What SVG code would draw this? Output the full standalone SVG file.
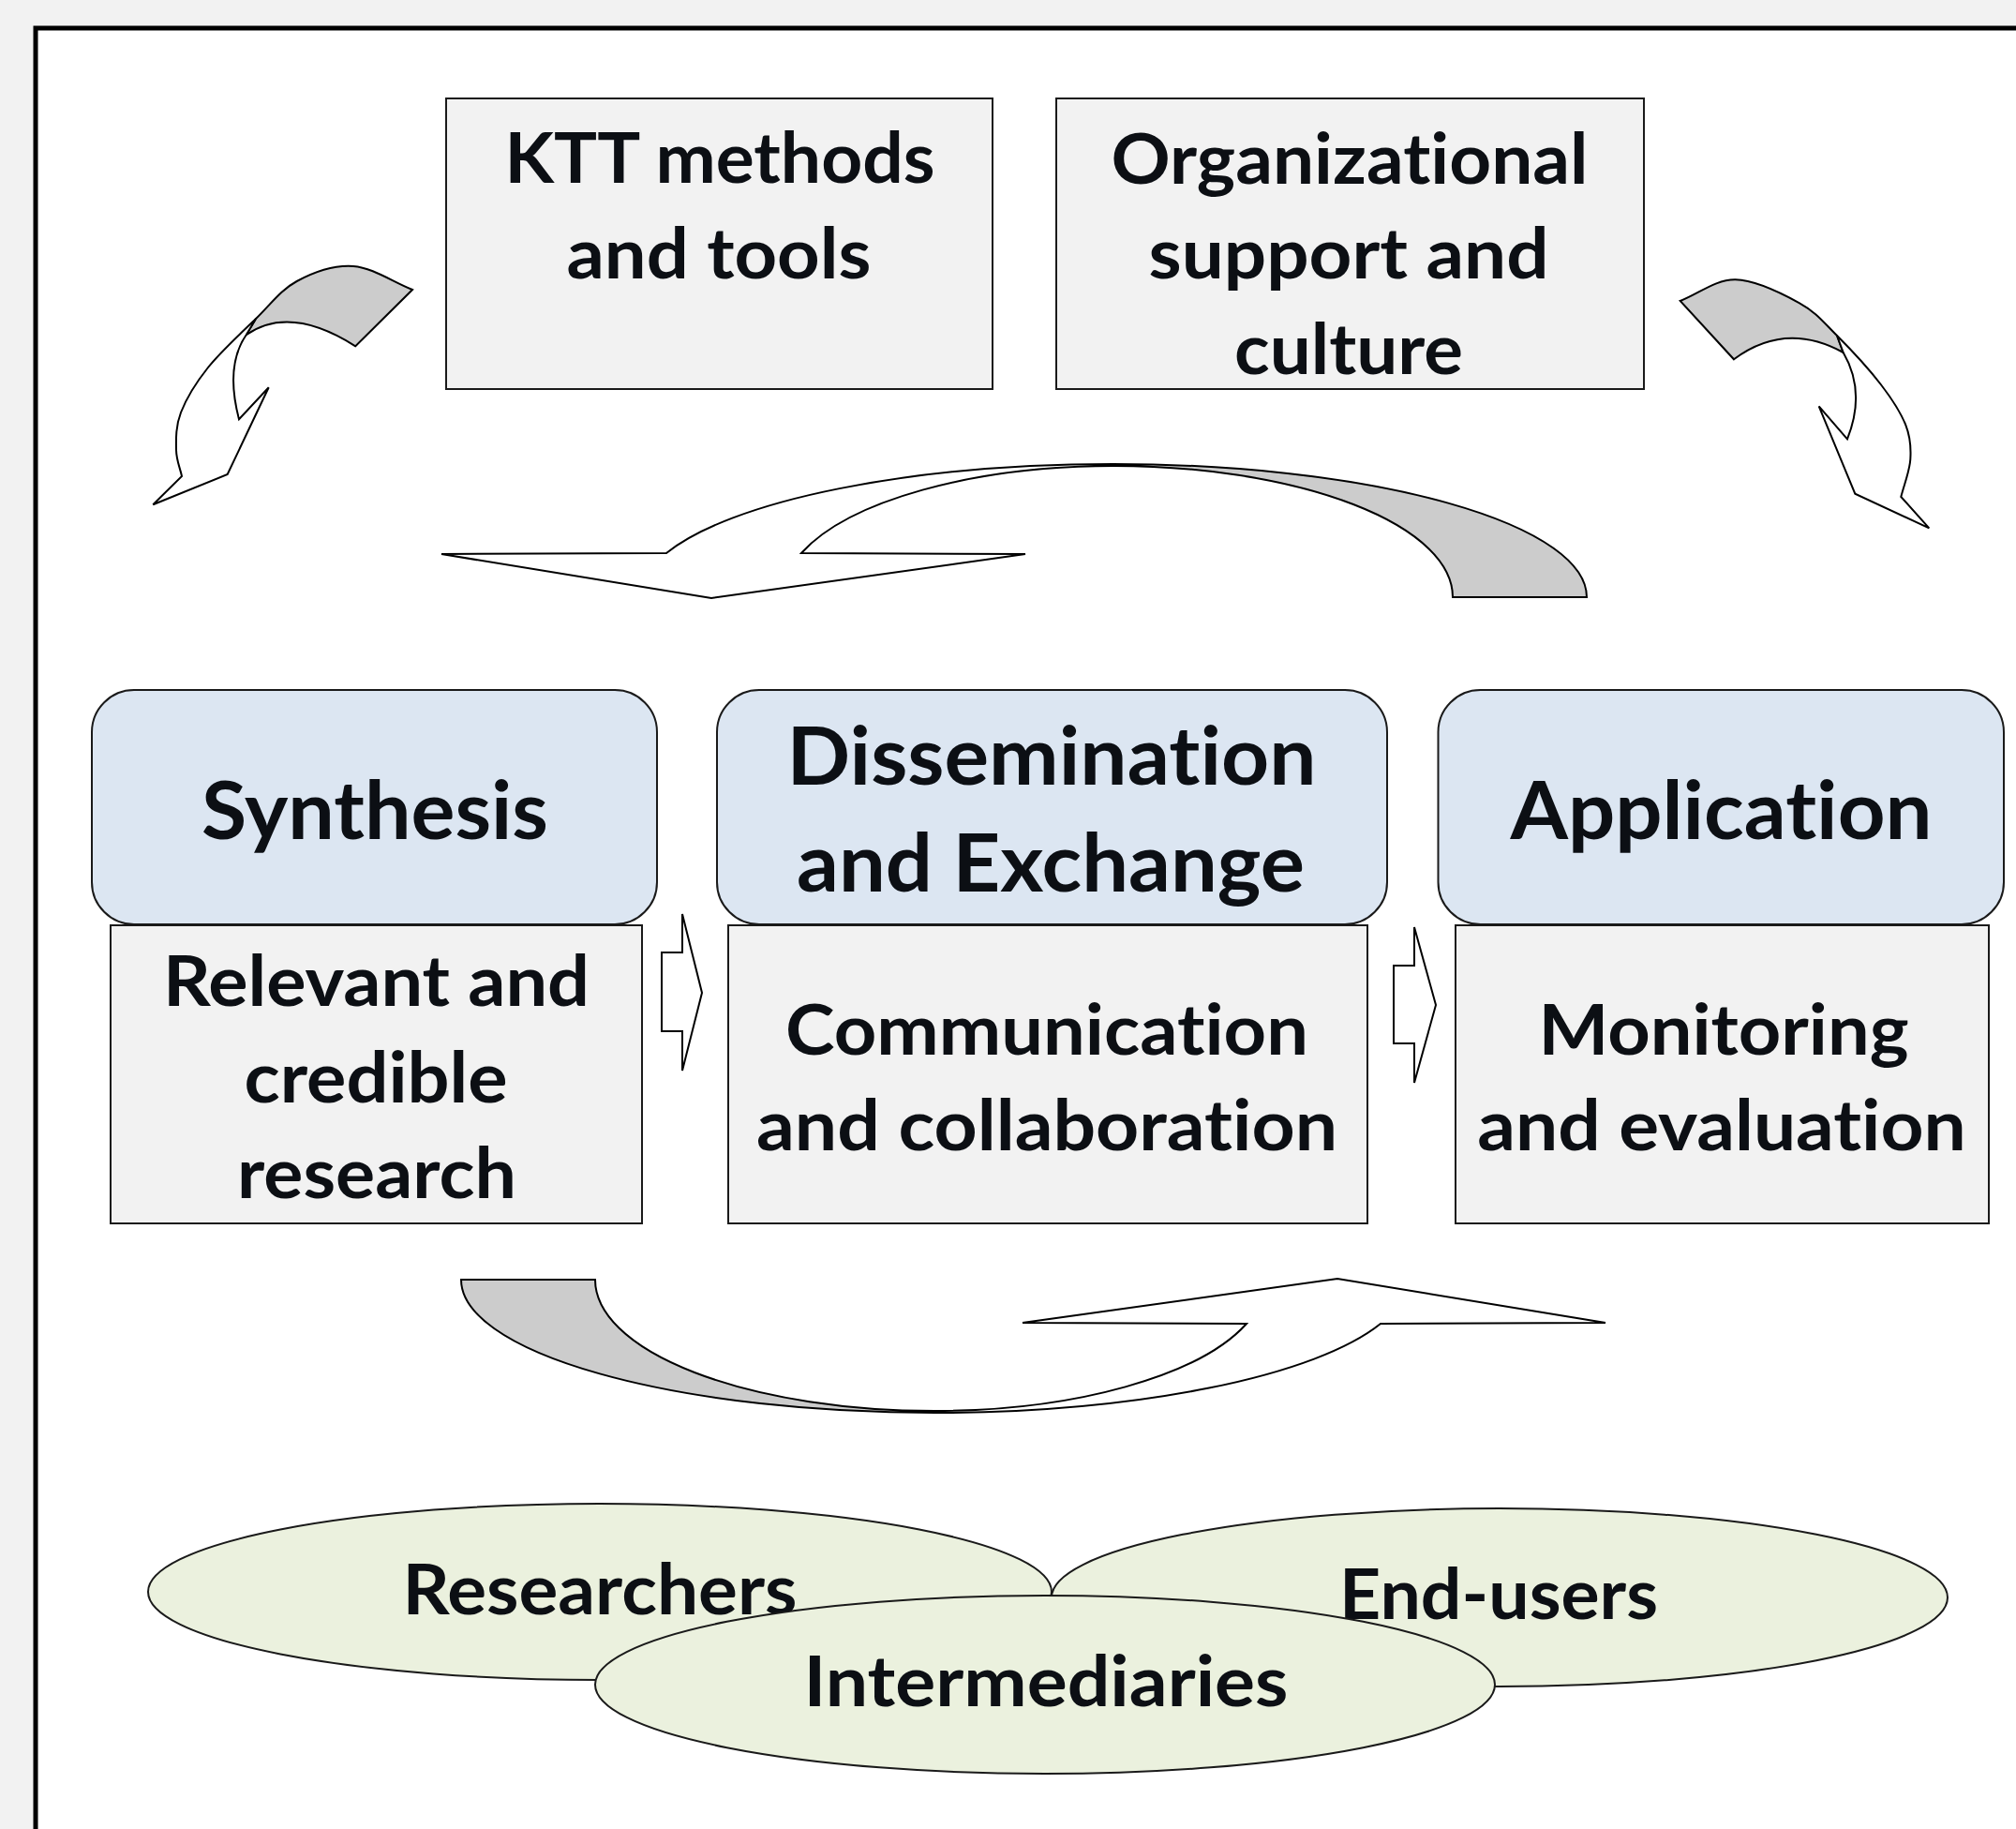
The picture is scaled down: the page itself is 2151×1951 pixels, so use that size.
<svg xmlns="http://www.w3.org/2000/svg" width="2151" height="1951" viewBox="0 0 2151 1951">
<style>
.t{font-family:Lato,"Noto Sans",sans-serif;font-weight:bold;fill:#0c0f14;text-anchor:middle;font-variant-ligatures:none;font-feature-settings:"liga" 0,"clig" 0,"dlig" 0}
.s{font-size:74px}
.b{font-size:86px}
.box{fill:#f2f2f2;stroke:#1a1a1a;stroke-width:2}
.rbox{fill:#dce6f2;stroke:#1a1a1a;stroke-width:2}
.ell{fill:#ebf1de;stroke:#1a1a1a;stroke-width:2}
.g{fill:#cccccc;stroke:#000;stroke-width:2;stroke-linejoin:miter}
.w{fill:#ffffff;stroke:#000;stroke-width:2;stroke-linejoin:miter}
</style>
<rect x="0" y="0" width="2151" height="1951" fill="#f2f2f2"/>
<rect x="38" y="30" width="2130" height="1940" fill="#ffffff" stroke="#000" stroke-width="5"/>

<g id="ktt">
<rect class="box" x="476" y="105" width="583" height="310"/>
<text class="t s" x="768" y="195" textLength="459" lengthAdjust="spacingAndGlyphs">KTT methods</text>
<text class="t s" x="767" y="297" textLength="325" lengthAdjust="spacingAndGlyphs">and tools</text>
</g>
<g id="org">
<rect class="box" x="1127" y="105" width="627" height="310"/>
<text class="t s" x="1440" y="196" textLength="509" lengthAdjust="spacingAndGlyphs">Organizational</text>
<text class="t s" x="1439" y="297" textLength="427" lengthAdjust="spacingAndGlyphs">support and</text>
<text class="t s" x="1439" y="399" textLength="244" lengthAdjust="spacingAndGlyphs">culture</text>
</g>

<g id="connectors">
<path class="g" d="M1188,495 A505,142 0 0 1 1693,637 L1550,637 A362,140 0 0 0 1188,497 Z"/>
<path class="w" d="M471,591 L711,590 A505,142 0 0 1 1188,495 L1188,497 A354,140 0 0 0 855,590 L1094,591 L759,638 Z"/>
<path class="g" d="M997,1507 A505,142 0 0 1 492,1365 L635,1365 A362,140 0 0 0 997,1505 Z"/>
<path class="w" d="M1713,1411 L1473,1412 A505,142 0 0 1 997,1507 L997,1505 A354,140 0 0 0 1330,1412 L1091,1411 L1427,1364 Z"/>
<path class="g" d="M440,309 C419,300.7 397.6,285.5 377,284 C356.5,282.5 334,290.7 316.7,300 C299.4,309.3 288.8,324.7 273,340 L262.7,357.3 Q309,324.7 379.3,369.3 Z"/>
<path class="w" d="M273,340 C257.2,355.3 235.3,375.3 222,392 C208.7,408.7 198.7,425.3 193,440 C187.3,454.7 187.8,468.7 188,480 C188.2,491.3 192,498.7 194,508 L163.3,538.3 L242.7,506 L286.7,413.3 L255,447.3 Q240,390 262.7,357.3 Z"/>
<path class="g" d="M1792.7,321 C1812.4,313.4 1830.5,297.9 1851.7,298.3 C1872.9,298.7 1902,313.4 1920,323.3 C1938,333.2 1945.6,343.6 1960,358 L1966.7,376 Q1905,342.3 1850,383.3 Z"/>
<path class="w" d="M1960,358 C1974.5,372.5 1994.5,394.1 2006.7,410 C2018.9,425.9 2028,440 2033.3,453.3 C2038.6,466.6 2039.1,477.2 2038.3,490 C2037.5,502.8 2031.6,516.7 2028.3,530 L2058.3,563.3 L1979.3,526.7 L1940.7,433.3 L1971,468.3 Q1991.2,417.9 1966.7,376 Z"/>
<path class="w" d="M706,1016 L728,1016 L728,975 L749,1059 L728,1142 L728,1100 L706,1100 Z"/>
<path class="w" d="M1487,1030 L1509,1030 L1509,989 L1532,1072 L1509,1155 L1509,1113 L1487,1113 Z"/>
</g>

<g id="synthesis">
<rect class="box" x="118" y="987" width="567" height="318"/>
<rect class="rbox" x="98" y="736" width="603" height="250" rx="45" ry="45"/>
<text class="t b" x="400" y="895" textLength="370" lengthAdjust="spacingAndGlyphs">Synthesis</text>
<text class="t s" x="401.5" y="1073" textLength="455" lengthAdjust="spacingAndGlyphs">Relevant and</text>
<text class="t s" x="401" y="1176" textLength="281" lengthAdjust="spacingAndGlyphs">credible</text>
<text class="t s" x="402" y="1278" textLength="298" lengthAdjust="spacingAndGlyphs">research</text>
</g>
<g id="dissemination">
<rect class="box" x="777" y="987" width="682" height="318"/>
<rect class="rbox" x="765" y="736" width="715" height="250" rx="45" ry="45"/>
<text class="t b" x="1122" y="837" textLength="565" lengthAdjust="spacingAndGlyphs">Dissemination</text>
<text class="t b" x="1121" y="951" textLength="542" lengthAdjust="spacingAndGlyphs">and Exchange</text>
<text class="t s" x="1117" y="1125" textLength="558" lengthAdjust="spacingAndGlyphs">Communication</text>
<text class="t s" x="1117" y="1227" textLength="620" lengthAdjust="spacingAndGlyphs">and collaboration</text>
</g>
<g id="application">
<rect class="box" x="1553" y="987" width="569" height="318"/>
<rect class="rbox" x="1534.5" y="736" width="603.5" height="250" rx="45" ry="45"/>
<text class="t b" x="1836.5" y="895" textLength="450" lengthAdjust="spacingAndGlyphs">Application</text>
<text class="t s" x="1839" y="1125" textLength="395" lengthAdjust="spacingAndGlyphs">Monitoring</text>
<text class="t s" x="1837" y="1226.5" textLength="521.5" lengthAdjust="spacingAndGlyphs">and evaluation</text>
</g>

<g id="researchers">
<ellipse class="ell" cx="640" cy="1698" rx="482" ry="94"/>
<text class="t s" x="640" y="1722" textLength="421" lengthAdjust="spacingAndGlyphs">Researchers</text>
</g>
<g id="end-users">
<ellipse class="ell" cx="1600" cy="1704" rx="478" ry="95"/>
<text class="t s" x="1599" y="1727" textLength="340" lengthAdjust="spacingAndGlyphs">End-users</text>
</g>
<g id="intermediaries">
<ellipse class="ell" cx="1115" cy="1797" rx="480" ry="95"/>
<text class="t s" x="1116" y="1820" textLength="517" lengthAdjust="spacingAndGlyphs">Intermediaries</text>
</g>
</svg>
